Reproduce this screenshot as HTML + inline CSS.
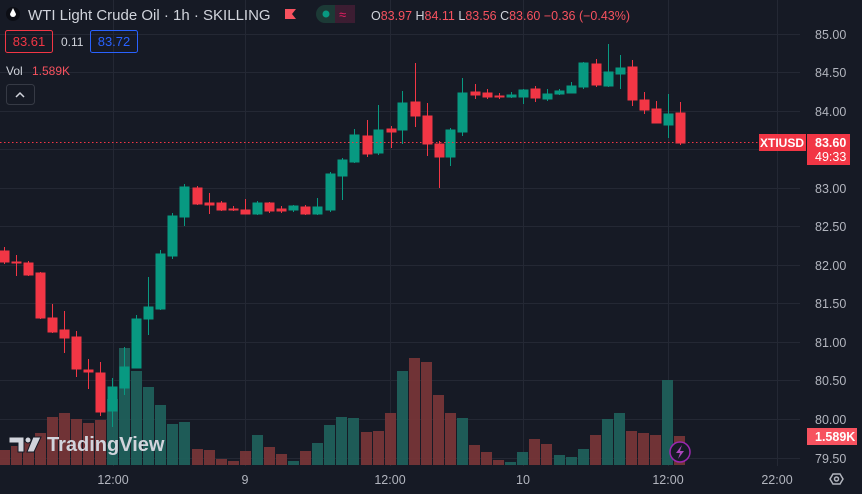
<!DOCTYPE html>
<html><head><meta charset="utf-8"><style>
body{margin:0;background:#161a25;width:862px;height:494px;overflow:hidden;font-family:"Liberation Sans",sans-serif}
svg{display:block}
text{font-family:"Liberation Sans",sans-serif}
</style></head><body>
<svg width="862" height="494" viewBox="0 0 862 494" xmlns="http://www.w3.org/2000/svg">
<rect width="862" height="494" fill="#161a25"/>
<g stroke="#242834" stroke-width="1">
<line x1="0" x2="800" y1="34.5" y2="34.5"/><line x1="0" x2="800" y1="72.5" y2="72.5"/><line x1="0" x2="800" y1="111.5" y2="111.5"/><line x1="0" x2="800" y1="149.5" y2="149.5"/><line x1="0" x2="800" y1="188.5" y2="188.5"/><line x1="0" x2="800" y1="226.5" y2="226.5"/><line x1="0" x2="800" y1="265.5" y2="265.5"/><line x1="0" x2="800" y1="303.5" y2="303.5"/><line x1="0" x2="800" y1="342.5" y2="342.5"/><line x1="0" x2="800" y1="380.5" y2="380.5"/><line x1="0" x2="800" y1="419.5" y2="419.5"/><line x1="0" x2="800" y1="458.5" y2="458.5"/>
<line x1="113.5" x2="113.5" y1="0" y2="466"/><line x1="245.5" x2="245.5" y1="0" y2="466"/><line x1="390.5" x2="390.5" y1="0" y2="466"/><line x1="523.5" x2="523.5" y1="0" y2="466"/><line x1="668.5" x2="668.5" y1="0" y2="466"/><line x1="777.5" x2="777.5" y1="0" y2="466"/>
</g>
<g fill="#7a3638" opacity="0.9">
<rect x="-1" y="450" width="11" height="15"/><rect x="11" y="446" width="11" height="19"/><rect x="23" y="442" width="11" height="23"/><rect x="35" y="433" width="11" height="32"/><rect x="47" y="417" width="11" height="48"/><rect x="59" y="413" width="11" height="52"/><rect x="71" y="419" width="11" height="46"/><rect x="83" y="423" width="11" height="42"/><rect x="95" y="420" width="11" height="45"/>
<rect x="192" y="449" width="11" height="16"/><rect x="204" y="450" width="11" height="15"/><rect x="216" y="459" width="11" height="6"/><rect x="228" y="461" width="11" height="4"/><rect x="240" y="451" width="11" height="14"/><rect x="264" y="447" width="11" height="18"/><rect x="276" y="454" width="11" height="11"/><rect x="300" y="451" width="11" height="14"/>
<rect x="361" y="432" width="11" height="33"/><rect x="373" y="431" width="11" height="34"/><rect x="385" y="413" width="11" height="52"/><rect x="409" y="358" width="11" height="107"/><rect x="421" y="362" width="11" height="103"/><rect x="433" y="395" width="11" height="70"/><rect x="445" y="413" width="11" height="52"/><rect x="469" y="445" width="11" height="20"/><rect x="481" y="452" width="11" height="13"/><rect x="493" y="460" width="11" height="5"/><rect x="529" y="439" width="11" height="26"/><rect x="541" y="444" width="11" height="21"/><rect x="590" y="435" width="11" height="30"/><rect x="626" y="431" width="11" height="34"/><rect x="638" y="433" width="11" height="32"/><rect x="650" y="435" width="11" height="30"/><rect x="674" y="436" width="11" height="29"/>
</g>
<g fill="#1f5f5a" opacity="0.95">
<rect x="107" y="399" width="11" height="66"/><rect x="119" y="348" width="11" height="117"/><rect x="131" y="371" width="11" height="94"/><rect x="143" y="387" width="11" height="78"/><rect x="155" y="405" width="11" height="60"/><rect x="167" y="424" width="11" height="41"/><rect x="179" y="422" width="11" height="43"/><rect x="252" y="435" width="11" height="30"/><rect x="288" y="461" width="11" height="4"/><rect x="312" y="443" width="11" height="22"/><rect x="324" y="425" width="11" height="40"/><rect x="336" y="417" width="11" height="48"/><rect x="348" y="418" width="11" height="47"/>
<rect x="397" y="371" width="11" height="94"/><rect x="457" y="418" width="11" height="47"/><rect x="505" y="462" width="11" height="3"/><rect x="517" y="452" width="11" height="13"/><rect x="554" y="455" width="11" height="10"/><rect x="566" y="457" width="11" height="8"/><rect x="578" y="449" width="11" height="16"/><rect x="602" y="419" width="11" height="46"/><rect x="614" y="413" width="11" height="52"/><rect x="662" y="380" width="11" height="85"/>
</g>
<g stroke="#f23645" fill="#f23645" stroke-width="1">
<line x1="4.5" x2="4.5" y1="247" y2="264"/><rect x="0" y="251" width="9" height="11"/>
<line x1="16.5" x2="16.5" y1="255" y2="276"/><rect x="12" y="262" width="9" height="1"/>
<line x1="28.5" x2="28.5" y1="261" y2="276"/><rect x="24" y="263" width="9" height="12"/>
<line x1="40.5" x2="40.5" y1="272" y2="319"/><rect x="36" y="273" width="9" height="45"/>
<line x1="52.5" x2="52.5" y1="304" y2="333"/><rect x="48" y="318" width="9" height="14"/>
<line x1="64.5" x2="64.5" y1="311" y2="353"/><rect x="60" y="330" width="9" height="8"/>
<line x1="76.5" x2="76.5" y1="331" y2="377"/><rect x="72" y="337" width="9" height="32"/>
<line x1="88.5" x2="88.5" y1="359" y2="389"/><rect x="84" y="370" width="9" height="2"/>
<line x1="100.5" x2="100.5" y1="362" y2="416"/><rect x="96" y="373" width="9" height="39"/>
<line x1="197.5" x2="197.5" y1="186" y2="205"/><rect x="193" y="188" width="9" height="16"/>
<line x1="209.5" x2="209.5" y1="193" y2="214"/><rect x="205" y="203" width="9" height="2"/>
<line x1="221.5" x2="221.5" y1="201" y2="211"/><rect x="217" y="203" width="9" height="7"/>
<line x1="233.5" x2="233.5" y1="206" y2="211"/><rect x="229" y="209" width="9" height="1"/>
<line x1="245.5" x2="245.5" y1="199" y2="214"/><rect x="241" y="210" width="9" height="4"/>
<line x1="269.5" x2="269.5" y1="202" y2="213"/><rect x="265" y="203" width="9" height="8"/>
<line x1="281.5" x2="281.5" y1="206" y2="213"/><rect x="277" y="209" width="9" height="2"/>
<line x1="305.5" x2="305.5" y1="205" y2="215"/><rect x="301" y="207" width="9" height="7"/>
<line x1="367.5" x2="367.5" y1="120" y2="157"/><rect x="363" y="136" width="9" height="18"/>
<line x1="391.5" x2="391.5" y1="126" y2="148"/><rect x="387" y="129" width="9" height="3"/>
<line x1="415.5" x2="415.5" y1="63" y2="127"/><rect x="411" y="102" width="9" height="14"/>
<line x1="427.5" x2="427.5" y1="103" y2="156"/><rect x="423" y="116" width="9" height="28"/>
<line x1="439.5" x2="439.5" y1="141" y2="188"/><rect x="435" y="144" width="9" height="13"/>
<line x1="475.5" x2="475.5" y1="84" y2="99"/><rect x="471" y="92" width="9" height="3"/>
<line x1="487.5" x2="487.5" y1="89" y2="99"/><rect x="483" y="93" width="9" height="4"/>
<line x1="499.5" x2="499.5" y1="93" y2="99"/><rect x="495" y="96" width="9" height="1"/>
<line x1="535.5" x2="535.5" y1="86" y2="102"/><rect x="531" y="89" width="9" height="9"/>
<line x1="596.5" x2="596.5" y1="59" y2="87"/><rect x="592" y="64" width="9" height="21"/>
<line x1="632.5" x2="632.5" y1="60" y2="106"/><rect x="628" y="67" width="9" height="33"/>
<line x1="644.5" x2="644.5" y1="92" y2="114"/><rect x="640" y="100" width="9" height="10"/>
<line x1="656.5" x2="656.5" y1="101" y2="123"/><rect x="652" y="109" width="9" height="14"/>
<line x1="680.5" x2="680.5" y1="102" y2="145"/><rect x="676" y="113" width="9" height="30"/>
</g>
<g stroke="#089981" fill="#089981" stroke-width="1">
<line x1="112.5" x2="112.5" y1="378" y2="427"/><rect x="108" y="387" width="9" height="24"/>
<line x1="124.5" x2="124.5" y1="347" y2="395"/><rect x="120" y="367" width="9" height="21"/>
<line x1="136.5" x2="136.5" y1="315" y2="368"/><rect x="132" y="319" width="9" height="49"/>
<line x1="148.5" x2="148.5" y1="277" y2="335"/><rect x="144" y="307" width="9" height="12"/>
<line x1="160.5" x2="160.5" y1="250" y2="310"/><rect x="156" y="254" width="9" height="55"/>
<line x1="172.5" x2="172.5" y1="213" y2="259"/><rect x="168" y="216" width="9" height="40"/>
<line x1="184.5" x2="184.5" y1="184" y2="226"/><rect x="180" y="187" width="9" height="30"/>
<line x1="257.5" x2="257.5" y1="201" y2="215"/><rect x="253" y="203" width="9" height="11"/>
<line x1="293.5" x2="293.5" y1="205" y2="212"/><rect x="289" y="206" width="9" height="4"/>
<line x1="317.5" x2="317.5" y1="198" y2="215"/><rect x="313" y="207" width="9" height="7"/>
<line x1="330.5" x2="330.5" y1="172" y2="212"/><rect x="326" y="174" width="9" height="36"/>
<line x1="342.5" x2="342.5" y1="158" y2="200"/><rect x="338" y="160" width="9" height="16"/>
<line x1="354.5" x2="354.5" y1="129" y2="163"/><rect x="350" y="135" width="9" height="27"/>
<line x1="378.5" x2="378.5" y1="105" y2="155"/><rect x="374" y="130" width="9" height="23"/>
<line x1="402.5" x2="402.5" y1="91" y2="144"/><rect x="398" y="103" width="9" height="27"/>
<line x1="450.5" x2="450.5" y1="128" y2="166"/><rect x="446" y="130" width="9" height="27"/>
<line x1="462.5" x2="462.5" y1="78" y2="136"/><rect x="458" y="93" width="9" height="39"/>
<line x1="511.5" x2="511.5" y1="92" y2="98"/><rect x="507" y="95" width="9" height="2"/>
<line x1="523.5" x2="523.5" y1="89" y2="104"/><rect x="519" y="90" width="9" height="7"/>
<line x1="547.5" x2="547.5" y1="89" y2="101"/><rect x="543" y="94" width="9" height="5"/>
<line x1="559.5" x2="559.5" y1="89" y2="95"/><rect x="555" y="91" width="9" height="3"/>
<line x1="571.5" x2="571.5" y1="82" y2="93"/><rect x="567" y="86" width="9" height="7"/>
<line x1="583.5" x2="583.5" y1="62" y2="89"/><rect x="579" y="63" width="9" height="24"/>
<line x1="608.5" x2="608.5" y1="44" y2="87"/><rect x="604" y="72" width="9" height="14"/>
<line x1="620.5" x2="620.5" y1="55" y2="89"/><rect x="616" y="68" width="9" height="6"/>
<line x1="668.5" x2="668.5" y1="94" y2="138"/><rect x="664" y="114" width="9" height="11"/>
</g>
<line x1="0" x2="760" y1="142.5" y2="142.5" stroke="#f23645" stroke-dasharray="1.5 2.5" stroke-width="1"/>
<g fill="#d1d4dc" stroke="#161a25" stroke-width="1">
<path d="M9 437 H24 V452 H18 V443 H9 Z"/><circle cx="28" cy="440" r="3"/><path d="M33 437 H41 L34 452 H27 Z"/>
</g>
<text x="47" y="451" font-size="20" font-weight="bold" fill="#d1d4dc">TradingView</text>
<circle cx="13" cy="14" r="7" fill="#0c0e15"/><path d="M13 8 L16 14 A3 3 0 1 1 10 14 Z" fill="#fff"/>
<text x="28" y="20" font-size="15" fill="#d1d4dc">WTI Light Crude Oil · 1h · SKILLING</text>
<path d="M285 9 H296 L292 14 L296 19 H285 Z" fill="#f7525f"/>
<rect x="316" y="5" width="39" height="18" rx="9" fill="#1c3a36"/><rect x="335" y="5" width="20" height="18" fill="#3c1d32"/><rect x="345" y="5" width="10" height="18" rx="9" fill="#3c1d32"/>
<circle cx="326" cy="14" r="3.5" fill="#089981"/><text x="339" y="19" font-size="13" fill="#e91e63">≈</text>
<text x="371" y="20" font-size="12.5" fill="#d1d4dc">O<tspan fill="#f7525f">83.97</tspan> H<tspan fill="#f7525f">84.11</tspan> L<tspan fill="#f7525f">83.56</tspan> C<tspan fill="#f7525f">83.60 −0.36 (−0.43%)</tspan></text>
<rect x="5.5" y="30.5" width="47" height="22" rx="2" fill="none" stroke="#f23645"/>
<text x="29" y="46" font-size="13" fill="#f23645" text-anchor="middle">83.61</text>
<text x="61" y="46" font-size="12" fill="#d1d4dc">0.11</text>
<rect x="90.5" y="30.5" width="47" height="22" rx="2" fill="none" stroke="#2962ff"/>
<text x="114" y="46" font-size="13" fill="#2962ff" text-anchor="middle">83.72</text>
<text x="6" y="75" font-size="12" fill="#d1d4dc">Vol</text><text x="32" y="75" font-size="12" fill="#f7525f">1.589K</text>
<rect x="6.5" y="84.5" width="28" height="20" rx="3" fill="none" stroke="#363a45"/>
<path d="M16 97 L20 93 L24 97" stroke="#d1d4dc" fill="none" stroke-width="1.5"/>
<g font-size="12.5" fill="#b2b5be">
<text x="815" y="39">85.00</text><text x="815" y="77">84.50</text><text x="815" y="116">84.00</text><text x="815" y="193">83.00</text><text x="815" y="231">82.50</text><text x="815" y="270">82.00</text><text x="815" y="308">81.50</text><text x="815" y="347">81.00</text><text x="815" y="385">80.50</text><text x="815" y="424">80.00</text><text x="815" y="463">79.50</text>
</g>
<rect x="759" y="134" width="47" height="17" fill="#f23645"/><text x="782" y="147" font-size="12" font-weight="bold" fill="#fff" text-anchor="middle">XTIUSD</text>
<rect x="807" y="134" width="43" height="31" fill="#f23645"/><text x="815" y="147" font-size="12.5" font-weight="bold" fill="#fff">83.60</text><text x="815" y="161" font-size="12.5" fill="#fff">49:33</text>
<rect x="807" y="428" width="50" height="17" fill="#f7525f"/><text x="815" y="441" font-size="12.5" font-weight="bold" fill="#fff">1.589K</text>
<g font-size="12.5" fill="#b2b5be" text-anchor="middle">
<text x="113" y="484">12:00</text><text x="245" y="484">9</text><text x="390" y="484">12:00</text><text x="523" y="484">10</text><text x="668" y="484">12:00</text><text x="777" y="484">22:00</text>
</g>
<path d="M830 479 L833 474 H840 L843 479 L840 484 H833 Z" fill="none" stroke="#b2b5be" stroke-width="1.5"/><circle cx="836.5" cy="479" r="2" fill="none" stroke="#b2b5be" stroke-width="1.5"/>
<circle cx="680" cy="452" r="10" fill="#161a25" stroke="#9c27b0" stroke-width="1.5"/>
<path d="M682 445 L676 453 H680 L678 459 L684 451 H680 Z" fill="#ab47bc"/>
</svg>
</body></html>
